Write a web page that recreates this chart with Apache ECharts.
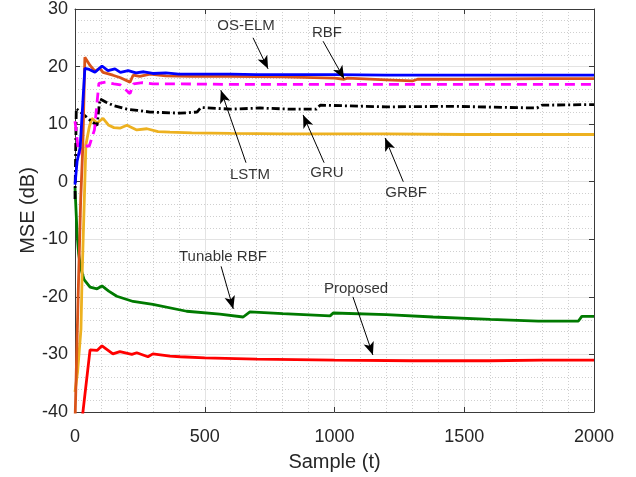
<!DOCTYPE html>
<html><head><meta charset="utf-8">
<script src="https://cdn.jsdelivr.net/npm/echarts@6/dist/echarts.min.js"></script>
<style>html,body{margin:0;padding:0;background:#fff}#c{width:636px;height:477px}</style>
</head><body><div id="c"></div>
<script>
// ---- data ----
const xTicks = [0, 500, 1000, 1500, 2000];
const yTicks = [-40, -30, -20, -10, 0, 10, 20, 30];

const osElmT = [0, 8, 20, 38, 55, 77, 104, 127, 154, 175, 205, 235, 265, 300, 350, 400, 500, 600, 700, 800, 1000, 1200, 1400, 1600, 1800, 2000];
const osElmV = [-0.5, 3.5, 6, 19.7, 19.5, 19.0, 20.1, 19.3, 19.6, 19.0, 19.3, 18.9, 19.1, 18.8, 18.9, 18.7, 18.7, 18.7, 18.6, 18.6, 18.6, 18.5, 18.5, 18.5, 18.5, 18.5];

const rbfT = [0, 12, 22, 30, 38, 58, 77, 96, 108, 146, 173, 212, 224, 250, 289, 350, 450, 600, 800, 1000, 1037, 1050, 1200, 1300, 1320, 1500, 1800, 2000];
const rbfV = [-42, -20, -3, 6, 21.6, 20.2, 19.2, 19.7, 19.0, 18.5, 18.1, 17.3, 18.5, 18.3, 18.7, 18.4, 18.3, 18.3, 18.2, 18.0, 17.8, 18.0, 17.7, 17.5, 17.8, 17.8, 17.9, 17.9];

const lstmT = [0, 8, 15, 25, 55, 75, 92, 120, 150, 175, 212, 226, 260, 300, 400, 600, 800, 1000, 1200, 1500, 1800, 2000];
const lstmV = [10.5, 7.5, 4.6, 6.2, 6.2, 9, 17.1, 17.3, 17.0, 16.8, 15.3, 17.0, 17.2, 17.0, 17.0, 16.9, 16.9, 16.9, 16.9, 16.9, 16.9, 16.9];

const gruT = [0, 5, 12, 35, 60, 85, 96, 120, 150, 200, 240, 289, 405, 470, 485, 600, 713, 830, 930, 945, 1200, 1450, 1780, 1800, 2000];
const gruV = [-3, 12.7, 12.8, 11.6, 10.6, 9.8, 14.4, 13.8, 13.2, 12.6, 12.4, 12.1, 11.9, 12.1, 12.9, 12.6, 12.8, 12.6, 12.6, 13.3, 13.0, 13.1, 12.8, 13.3, 13.4];

const grbfT = [0, 10, 23, 27, 42, 55, 65, 85, 108, 130, 150, 173, 200, 238, 277, 320, 366, 450, 600, 800, 1000, 1200, 1500, 1800, 2000];
const grbfV = [-36.5, -33, -25.6, -17, 6.4, 9.5, 11, 10.2, 11, 9.8, 9.4, 9.3, 9.8, 9.0, 9.2, 8.7, 8.6, 8.5, 8.4, 8.3, 8.3, 8.3, 8.2, 8.2, 8.2];

const tunT = [0, 4, 8, 14, 22, 35, 58, 85, 104, 130, 161, 224, 300, 430, 558, 648, 674, 800, 983, 995, 1200, 1380, 1600, 1785, 1940, 1953, 2000];
const tunV = [-1, -5, -9, -12.5, -15, -17, -18.3, -18.6, -18.1, -19.0, -19.9, -20.8, -21.3, -22.5, -23.0, -23.5, -22.6, -22.9, -23.3, -22.8, -23.1, -23.5, -23.9, -24.2, -24.2, -23.4, -23.4];

const propT = [0, 58, 85, 104, 146, 173, 219, 238, 281, 300, 366, 405, 500, 700, 1000, 1300, 1600, 1800, 2000];
const propV = [-52, -29.2, -29.3, -28.5, -29.9, -29.5, -30.0, -29.7, -30.4, -29.9, -30.3, -30.4, -30.6, -30.8, -31.0, -31.1, -31.1, -31.0, -31.0];

// annotation labels (data coords) and arrows [from, to]
const labelNames = ['OS-ELM', 'RBF', 'LSTM', 'GRU', 'GRBF', 'Tunable RBF', 'Proposed'];
const labelPos = [[659, 27.1], [971, 25.9], [674, 1.2], [971, 1.5], [1276, -1.9], [570, -13.1], [1083, -18.6]];
const arrowFrom = [[686, 25.0], [956, 24.4], [659, 3.3], [960, 3.3], [1265, 0.0], [563, -14.7], [1071, -20.0]];
const arrowTo = [[744, 19.6], [1037, 17.9], [562, 15.9], [879, 11.6], [1195, 7.6], [610, -22.1], [1148, -30.1]];

const zip = (t, v) => t.map((x, i) => [x, v[i]]);
const FONT = 'Liberation Sans, Arial, Helvetica, sans-serif';

function lineSeries(name, t, v, color, type, z) {
  return {
    name, type: 'line', data: zip(t, v), symbol: 'none', smooth: false,
    lineStyle: { color, width: 2.8, type: type || 'solid' }, z: z,
    emphasis: { disabled: true }, silent: true, animation: false
  };
}

const axisCommon = {
  axisLine: { show: true, onZero: false, lineStyle: { color: '#3a3a3a', width: 1 } },
  axisTick: { show: true, inside: true, length: 5, lineStyle: { color: '#3a3a3a' } },
  minorTick: { show: false, splitNumber: 5 }
};

const chart = echarts.init(document.getElementById('c'), null, { renderer: 'canvas' });
chart.setOption({
  animation: false,
  backgroundColor: '#fff',
  grid: { left: 75, right: 42, top: 7, bottom: 65, containLabel: false },
  xAxis: [
    Object.assign({}, axisCommon, {
      type: 'value', min: xTicks[0], max: xTicks[xTicks.length - 1], interval: 500, position: 'bottom',
      name: 'Sample (t)', nameLocation: 'middle', nameGap: 40, nameMoveOverlap: false,
      nameTextStyle: { fontFamily: FONT, fontSize: 20, color: '#262626' },
      axisLabel: { fontFamily: FONT, fontSize: 18, color: '#262626', margin: 16, formatter: v => String(v) },
      splitLine: { show: true, lineStyle: { color: '#e3e3e3', width: 1 } },
      minorSplitLine: { show: true, lineStyle: { color: '#cfcfcf', width: 1, type: [1, 2] } }
    }),
    Object.assign({}, axisCommon, {
      type: 'value', min: xTicks[0], max: xTicks[xTicks.length - 1], interval: 500, position: 'top',
      axisLabel: { show: false }, splitLine: { show: false }
    })
  ],
  yAxis: [
    Object.assign({}, axisCommon, {
      type: 'value', min: yTicks[0], max: yTicks[yTicks.length - 1], interval: 10, position: 'left',
      name: 'MSE (dB)', nameLocation: 'middle', nameGap: 37, nameMoveOverlap: false,
      nameTextStyle: { fontFamily: FONT, fontSize: 20, color: '#262626' },
      axisLabel: { fontFamily: FONT, fontSize: 18, color: '#262626', margin: 7, formatter: v => String(v) },
      splitLine: { show: true, lineStyle: { color: '#e3e3e3', width: 1 } },
      minorSplitLine: { show: true, lineStyle: { color: '#cfcfcf', width: 1, type: [1, 2] } }
    }),
    Object.assign({}, axisCommon, {
      type: 'value', min: yTicks[0], max: yTicks[yTicks.length - 1], interval: 10, position: 'right',
      axisLabel: { show: false }, splitLine: { show: false }
    })
  ],
  series: [
    lineSeries('Proposed', propT, propV, '#ff0000', 'solid', 2),
    lineSeries('Tunable RBF', tunT, tunV, '#007a00', 'solid', 2),
    lineSeries('GRBF', grbfT, grbfV, '#edb120', 'solid', 2),
    lineSeries('GRU', gruT, gruV, '#000000', [8, 3, 2, 3], 2),
    lineSeries('LSTM', lstmT, lstmV, '#ff00ff', [10, 6], 2),
    lineSeries('RBF', rbfT, rbfV, '#d95319', 'solid', 2),
    lineSeries('OS-ELM', osElmT, osElmV, '#0000ff', 'solid', 2),
    {
      name: 'annotations', type: 'scatter', silent: true, animation: false, z: 5,
      symbolSize: 1, itemStyle: { color: 'rgba(0,0,0,0)' },
      data: labelNames.map((n, i) => ({ name: n, value: labelPos[i] })),
      label: { show: true, position: 'inside', formatter: p => p.name,
               fontFamily: FONT, fontSize: 15, color: '#000' },
      markLine: {
        silent: true, animation: false, symbol: ['none', 'arrow'], symbolSize: 13,
        label: { show: false },
        itemStyle: { color: '#000' },
        lineStyle: { color: '#000', width: 1, type: 'solid' },
        emphasis: { disabled: true },
        data: arrowFrom.map((f, i) => [{ coord: f }, { coord: arrowTo[i], symbolSize: [8, 13] }])
      }
    }
  ]
});
</script>
</body></html>
